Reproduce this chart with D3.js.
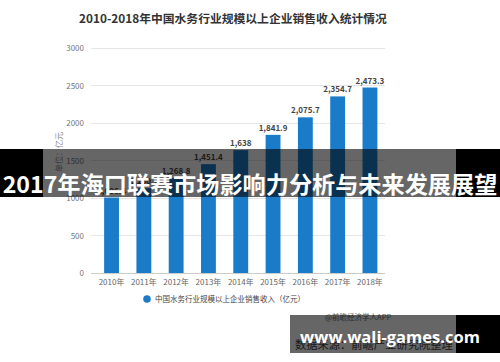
<!DOCTYPE html>
<html><head><meta charset="utf-8">
<script src="https://cdn.jsdelivr.net/npm/d3@7"></script>
<style>html,body{margin:0;padding:0;background:#fff;}svg{display:block;}</style>
</head><body>
<svg id="c" width="500" height="362"></svg>
<script>
const years = ["2010年","2011年","2012年","2013年","2014年","2015年","2016年","2017年","2018年"];
const values = [1006.4, 1130.2, 1268.8, 1451.4, 1638, 1841.9, 2075.7, 2354.7, 2473.3];
const yTicks = [0, 500, 1000, 1500, 2000, 2500, 3000];
const chartTitle = "2010-2018年中国水务行业规模以上企业销售收入统计情况";
const legendLabel = "中国水务行业规模以上企业销售收入（亿元）";
const yLabel = "单位：亿元";
const bannerTitle = "2017年海口联赛市场影响力分析与未来发展展望";
const siteText = "www.wali-games.com";
const sourceText = "数据来源：前瞻产业研究院整理";
const appText = "@前瞻经济学人APP";

const svg = d3.select("#c");
const font = "'Noto Sans CJK SC','Noto Sans',sans-serif";
const x = d3.scaleBand().domain(years).range([95.4, 386.1]).paddingInner(0.54).paddingOuter(0.27);
const y = d3.scaleLinear().domain([0, 3000]).range([273, 48]);

function fitWidth(sel, target) {
  const fs = +sel.attr("font-size");
  const w = sel.node().getComputedTextLength();
  sel.attr("font-size", fs * target / w);
}

svg.append("text").attr("x", 233).attr("y", 23).attr("text-anchor", "middle")
  .attr("font-family", font).attr("font-weight", "bold").attr("font-size", 11.8)
  .attr("fill", "#333").text(chartTitle);

// grid
const gx0 = 91, gx1 = 385;
svg.append("g").selectAll("line").data(yTicks).join("line")
  .attr("x1", gx0).attr("x2", gx1).attr("y1", d => y(d)).attr("y2", d => y(d))
  .attr("stroke", d => d === 0 ? "#ccc" : "#e6e6e6").attr("stroke-width", 1).attr("shape-rendering", "crispEdges");

const yAxis = svg.append("g").attr("transform", `translate(${gx0},0)`)
  .call(d3.axisLeft(y).tickValues(yTicks).tickSize(0).tickPadding(7).tickFormat(d3.format("d")));
yAxis.select(".domain").remove();
yAxis.selectAll("text").attr("font-family", font).attr("font-size", 8).attr("fill", "#777");

const xAxis = svg.append("g").attr("transform", `translate(0,${y(0)})`)
  .call(d3.axisBottom(x).tickSize(0).tickPadding(6));
xAxis.select(".domain").remove();
xAxis.selectAll("text").attr("font-family", font).attr("font-size", 8).attr("fill", "#666");

svg.append("text").attr("transform", "translate(62,152) rotate(-90)").attr("text-anchor", "middle")
  .attr("font-family", font).attr("font-size", 8).attr("fill", "#888").text(yLabel);

svg.append("g").selectAll("rect").data(values).join("rect")
  .attr("x", (d, i) => x(years[i])).attr("width", x.bandwidth())
  .attr("y", d => y(d)).attr("height", d => y(0) - y(d)).attr("fill", "#1a7cc8");

svg.append("g").selectAll("text").data(values).join("text")
  .attr("x", (d, i) => x(years[i]) + x.bandwidth() / 2).attr("y", d => y(d) - 4)
  .attr("text-anchor", "middle").attr("font-family", font).attr("font-size", 8)
  .attr("font-weight", "bold").attr("fill", "#444").text(d => d3.format(",")(d));

// legend
svg.append("circle").attr("cx", 147).attr("cy", 299).attr("r", 3.8).attr("fill", "#1a7cc8");
svg.append("text").attr("x", 155).attr("y", 302).attr("font-family", font).attr("font-size", 7.5)
  .attr("fill", "#444").text(legendLabel);

svg.append("text").attr("x", 325).attr("y", 320).attr("font-family", font).attr("font-size", 7.5)
  .attr("fill", "#666").text(appText);
const src = svg.append("text").attr("x", 295).attr("y", 349).attr("font-family", font).attr("font-size", 12.5)
  .attr("fill", "#444").text(sourceText);
fitWidth(src, 158);

// banner
svg.append("rect").attr("x", 0).attr("y", 149).attr("width", 43).attr("height", 48).attr("fill", "#000");
svg.append("rect").attr("x", 456).attr("y", 149).attr("width", 44).attr("height", 48).attr("fill", "#000");
svg.append("rect").attr("x", 43).attr("y", 149).attr("width", 413).attr("height", 48).attr("fill", "rgba(0,0,0,0.6)");
const bt = svg.append("text").attr("x", 250).attr("y", 193).attr("text-anchor", "middle")
  .attr("font-family", font).attr("font-weight", "bold").attr("font-size", 24)
  .attr("fill", "#fff").text(bannerTitle);
fitWidth(bt, 495);

svg.append("rect").attr("x", 290).attr("y", 315).attr("width", 166).attr("height", 38).attr("fill", "rgba(0,0,0,0.6)");
svg.append("rect").attr("x", 456).attr("y", 315).attr("width", 44).attr("height", 38).attr("fill", "#000");
const st = svg.append("text").attr("x", 390).attr("y", 343).attr("text-anchor", "middle")
  .attr("font-family", "'Open Sans',sans-serif").attr("font-weight", "bold").attr("font-size", 20)
  .attr("fill", "#fff").text(siteText);
fitWidth(st, 180);
</script>
</body></html>
